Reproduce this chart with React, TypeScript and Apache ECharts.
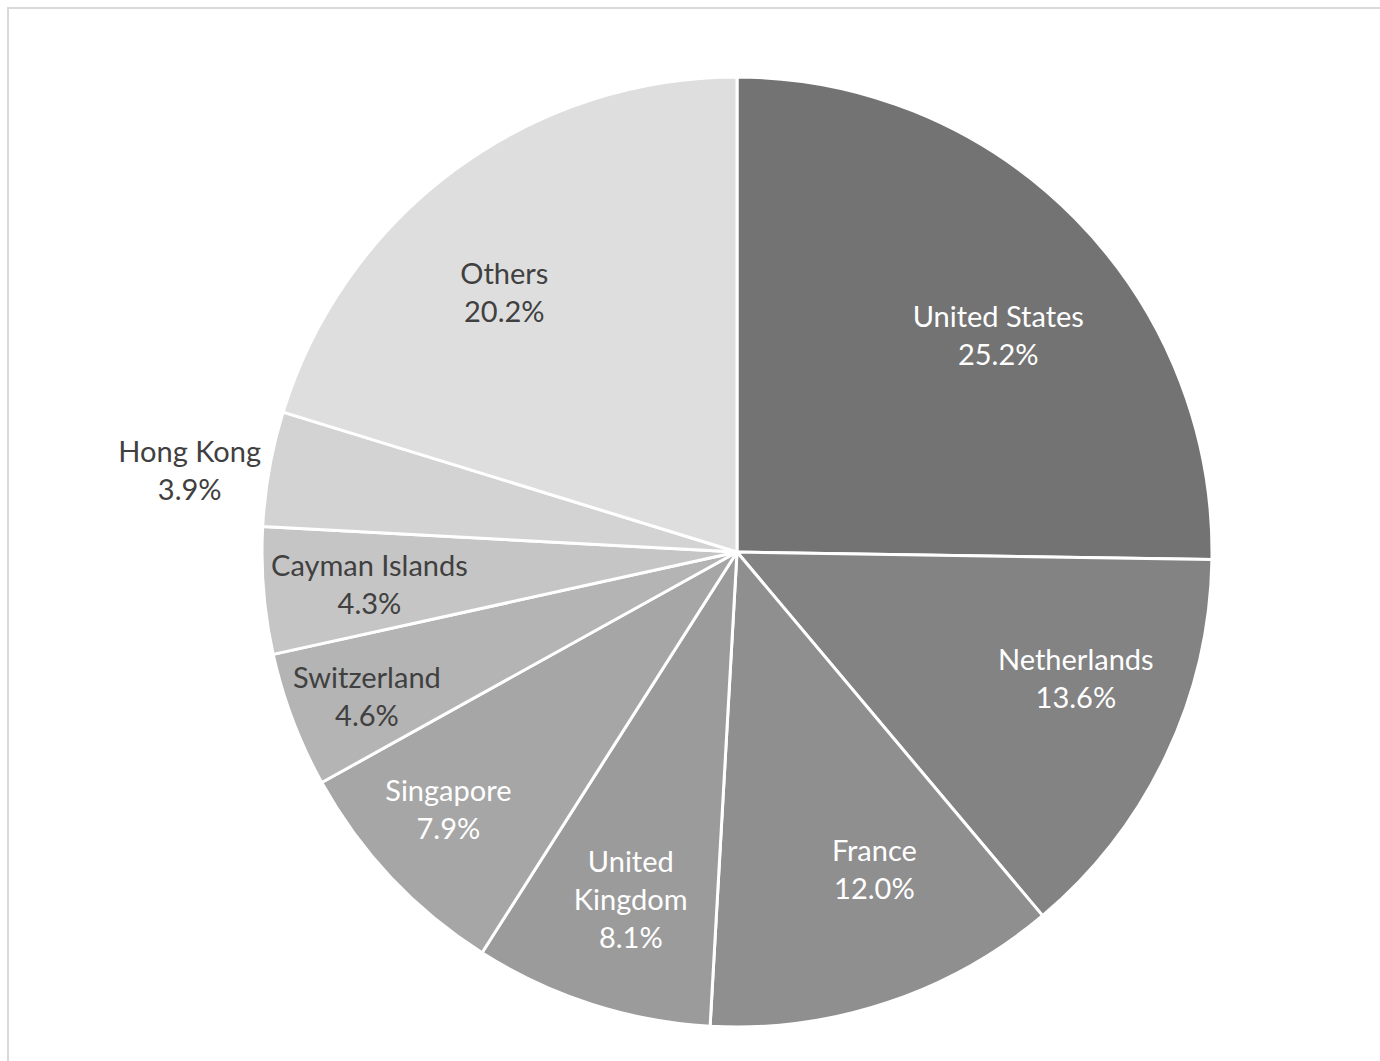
import React, { useEffect, useRef } from "react";
import * as echarts from "echarts";

const countries = [
  "United States",
  "Netherlands",
  "France",
  "United\nKingdom",
  "Singapore",
  "Switzerland",
  "Cayman Islands",
  "Hong Kong",
  "Others",
];
const shares = [25.2, 13.6, 12.0, 8.1, 7.9, 4.6, 4.3, 3.9, 20.2];
const sliceColors = [
  "#737373",
  "#838383",
  "#8f8f8f",
  "#9b9b9b",
  "#a6a6a6",
  "#b4b4b4",
  "#c5c5c5",
  "#d3d3d3",
  "#dedede",
];
const labelColors = [
  "#ffffff",
  "#ffffff",
  "#ffffff",
  "#ffffff",
  "#ffffff",
  "#404040",
  "#404040",
  "#404040",
  "#404040",
];

// label nudges (px) to follow the reference's label placement
const labelNudges = [
  [12, 28],
  [23, -25],
  [27, -15],
  [1, 14],
  [-34, 17],
  [-43, 20],
  [-19, 3],
  [-203, -21],
  [-25, 21],
];

export default function App() {
  const ref = useRef<HTMLDivElement>(null);
  useEffect(() => {
    if (!ref.current) return;
    const chart = echarts.init(ref.current, undefined, { renderer: "svg" });
    const R = 475;
    const center = [737, 552];
    const fontFamily = "Lato, 'Open Sans', sans-serif";
    chart.setOption({
      animation: false,
      backgroundColor: "#ffffff",
      graphic: [
        {
          type: "rect",
          shape: { x: 8, y: 8, width: 1500, height: 1200 },
          style: { fill: "none", stroke: "#d9d9d9", lineWidth: 2 },
          silent: true,
        },
      ],
      series: [
        {
          type: "pie",
          center,
          radius: [0, R],
          startAngle: 90,
          clockwise: true,
          label: { show: false },
          labelLine: { show: false },
          itemStyle: { borderColor: "#ffffff", borderWidth: 3 },
          emphasis: { disabled: true },
          data: countries.map((n, i) => ({
            name: n,
            value: shares[i],
            itemStyle: { color: sliceColors[i] },
          })),
        },
        {
          type: "pie",
          center,
          radius: [R * 0.46, R],
          startAngle: 90,
          clockwise: true,
          silent: true,
          itemStyle: { color: "rgba(0,0,0,0)" },
          emphasis: { disabled: true },
          labelLine: { show: false },
          label: {
            show: true,
            position: "inside",
            fontFamily,
            fontSize: 29,
            lineHeight: 38,
            formatter: (p: any) => `${p.name}\n${shares[p.dataIndex].toFixed(1)}%`,
          },
          data: countries.map((n, i) => ({
            name: n,
            value: shares[i],
            label: { color: labelColors[i], offset: labelNudges[i] },
          })),
        },
      ],
    });
    return () => chart.dispose();
  }, []);
  return (
    <div
      ref={ref}
      style={{ position: "fixed", left: 0, top: 0, width: 1380, height: 1061 }}
    />
  );
}
